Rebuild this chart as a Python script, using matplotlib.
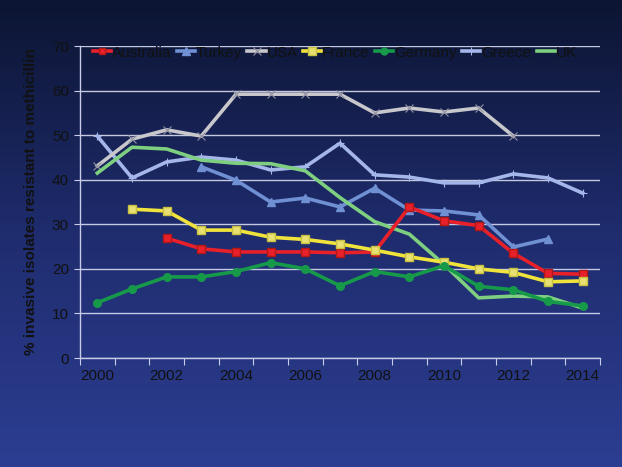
import matplotlib.pyplot as plt
import numpy as np
from matplotlib.colors import LinearSegmentedColormap

plt.rcParams['font.family'] = ['Liberation Sans', 'DejaVu Sans']

years = list(range(2000, 2015))

nan = np.nan
australia = [nan, nan, 26.9, 24.5, 23.8, 23.8, 23.8, 23.6, 23.8, 33.9, 30.8, 29.7, 23.5, 19.0, 18.8]
turkey = [nan, nan, nan, 42.9, 39.9, 35.0, 35.9, 33.9, 38.1, 33.2, 33.0, 32.1, 24.9, 26.7, nan]
usa = [43.1, 49.1, 51.2, 49.8, 59.2, 59.2, 59.2, 59.2, 55.0, 56.1, 55.2, 56.1, 49.8, nan, nan]
france = [nan, 33.4, 33.0, 28.7, 28.7, 27.1, 26.6, 25.6, 24.2, 22.7, 21.5, 20.0, 19.2, 17.1, 17.3]
germany = [12.4, 15.5, 18.2, 18.2, 19.4, 21.4, 20.0, 16.2, 19.4, 18.2, 20.7, 16.1, 15.3, 12.7, 11.7]
greece = [49.8, 40.4, 44.0, 45.1, 44.4, 42.2, 42.9, 48.2, 41.1, 40.6, 39.3, 39.3, 41.3, 40.4, 37.0]
uk = [41.5, 47.3, 46.9, 44.4, 43.7, 43.6, 42.0, 36.0, 30.6, 27.8, 21.0, 13.5, 13.9, 13.7, 11.2]

fig = plt.figure(figsize=(6.22, 4.67), dpi=100)

# background gradient
bg = fig.add_axes([0, 0, 1, 1], zorder=-10)
cmap = LinearSegmentedColormap.from_list("bg", ["#0c1532", "#1f2c6e", "#2c3e92"])
grad = np.linspace(0, 1, 256).reshape(-1, 1)
bg.imshow(grad, aspect="auto", cmap=cmap, extent=[0, 1, 0, 1], origin="upper")
bg.axis("off")

ax = fig.add_axes([0.1286, 0.2334, 0.836, 0.668])
ax.patch.set_alpha(0)

x = np.arange(len(years))
lw = 2.6
ax.plot(x, australia, '-s', color='#e8202a', lw=lw, ms=5.5, mec='#b01818', label='Australia', zorder=5)
ax.plot(x, turkey, '-^', color='#7090d4', lw=lw, ms=6, label='Turkey', zorder=4)
ax.plot(x, usa, '-x', color='#c8c8cc', lw=lw, ms=6, mew=0.8, mec='#9090a0', label='USA', zorder=4)
ax.plot(x, france, '-s', color='#f0e43c', lw=lw, ms=6, mfc='#e8e070', mec='#c8c040', label='France', zorder=5)
ax.plot(x, germany, '-o', color='#17994a', lw=lw, ms=5.5, label='Germany', zorder=5)
ax.plot(x, greece, '-+', color='#a4b6ea', lw=lw, ms=6, mew=0.8, label='Greece', zorder=3)
ax.plot(x, uk, '-', color='#7ecf80', lw=lw, label='UK', zorder=4)

ax.set_xlim(-0.5, 14.5)
ax.set_ylim(0, 70)
ax.set_yticks(range(0, 71, 10))
ax.set_xticks(np.arange(-0.5, 15, 1))
ax.set_xticklabels([])
ax.set_xticks(x[::2], minor=True)
ax.set_xticklabels([str(y) for y in years[::2]], minor=True)
ax.tick_params(axis='x', which='minor', length=0, pad=8, labelsize=11, colors='#111111')
ax.tick_params(axis='x', which='major', length=5, color='#c8cce8', direction='out')
ax.tick_params(axis='y', length=4, color='#c8cce8', labelsize=11, labelcolor='#111111', pad=4)

ax.grid(axis='y', color='#d8dcf0', lw=1, alpha=0.9)
ax.set_axisbelow(True)
for s in ['top', 'right']:
    ax.spines[s].set_visible(False)
for s in ['left', 'bottom']:
    ax.spines[s].set_color('#c8cce8')
    ax.spines[s].set_linewidth(1)

ax.set_ylabel('% invasive isolates resistant to methicillin', fontsize=11,
              fontweight='bold', color='#111111', labelpad=10)

leg = ax.legend(loc='upper center', bbox_to_anchor=(0.49, 1.045), ncol=7, frameon=False,
                fontsize=11, handlelength=1.2, handletextpad=0.05, columnspacing=0.35,
                labelcolor='#111111', markerscale=0.9)

fig.savefig('out.png', dpi=100)
